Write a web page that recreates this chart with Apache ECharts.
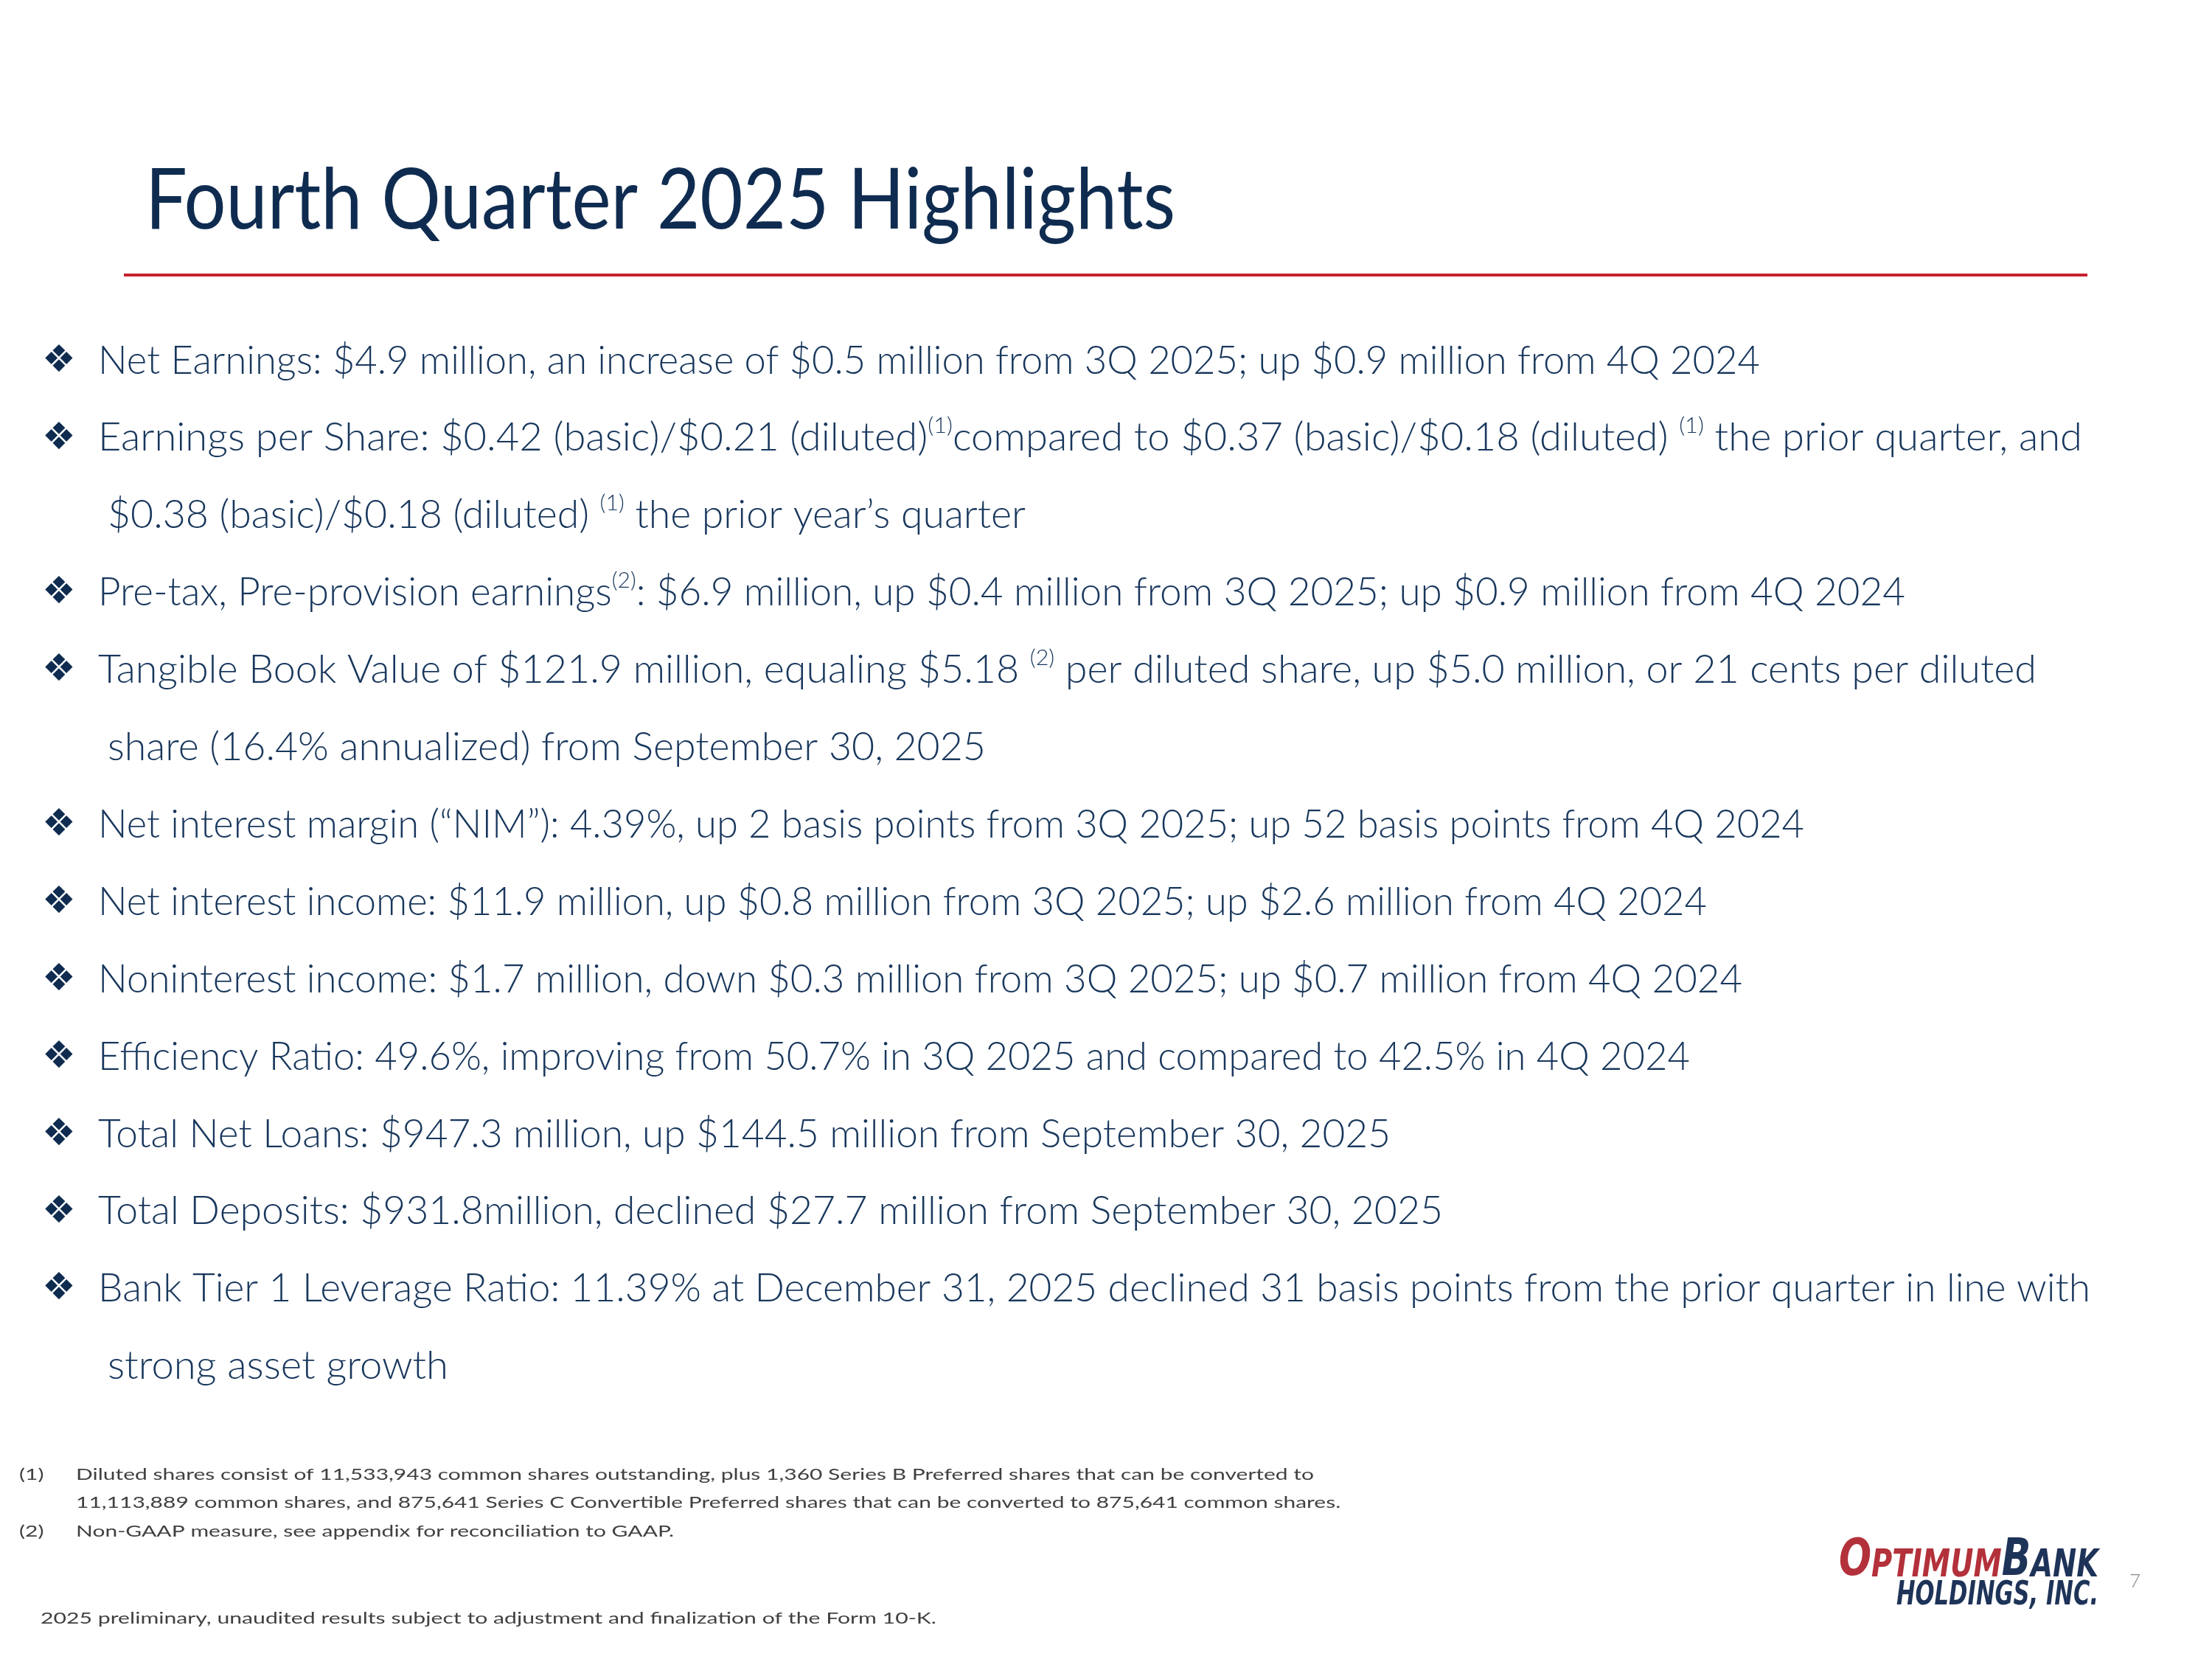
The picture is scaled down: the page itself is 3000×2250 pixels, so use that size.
<!DOCTYPE html>
<html>
<head>
<meta charset="utf-8">
<script src="https://cdn.jsdelivr.net/npm/echarts@6/dist/echarts.min.js"></script>
<style>
  html, body { margin: 0; padding: 0; background: #fff; }
  #slide { width: 3000px; height: 2250px; }
</style>
</head>
<body>
<div id="slide"></div>
<script>
// slide content
const titleText = 'Fourth Quarter 2025 Highlights';

// bullet lines; {sup|..} marks a superscript footnote reference
const highlightLines = [
  'Net Earnings: $4.9 million, an increase of $0.5 million from 3Q 2025; up $0.9 million from 4Q 2024',
  'Earnings per Share: $0.42 (basic)/$0.21 (diluted){sup|(1)}compared to $0.37 (basic)/$0.18 (diluted) {sup|(1)} the prior quarter, and',
  '$0.38 (basic)/$0.18 (diluted) {sup|(1)} the prior year’s quarter',
  'Pre-tax, Pre-provision earnings{sup|(2)}: $6.9 million, up $0.4 million from 3Q 2025; up $0.9 million from 4Q 2024',
  'Tangible Book Value of $121.9 million, equaling $5.18 {sup|(2)} per diluted share, up $5.0 million, or 21 cents per diluted',
  'share (16.4% annualized) from September 30, 2025',
  'Net interest margin (“NIM”): 4.39%, up 2 basis points from 3Q 2025; up 52 basis points from 4Q 2024',
  'Net interest income: $11.9 million, up $0.8 million from 3Q 2025; up $2.6 million from 4Q 2024',
  'Noninterest income: $1.7 million, down $0.3 million from 3Q 2025; up $0.7 million from 4Q 2024',
  'Efficiency Ratio: 49.6%, improving from 50.7% in 3Q 2025 and compared to 42.5% in 4Q 2024',
  'Total Net Loans: $947.3 million, up $144.5 million from September 30, 2025',
  'Total Deposits: $931.8million, declined $27.7 million from September 30, 2025',
  'Bank Tier 1 Leverage Ratio: 11.39% at December 31, 2025 declined 31 basis points from the prior quarter in line with',
  'strong asset growth'
];
// true where the line starts a new bullet, false for a wrapped continuation
const lineHasBullet = [true, true, false, true, true, false, true, true, true, true, true, true, true, false];

const footnoteMarks = ['(1)', '', '(2)'];
const footnoteLines = [
  'Diluted shares consist of 11,533,943 common shares outstanding, plus 1,360 Series B Preferred shares that can be converted to',
  '11,113,889 common shares, and 875,641 Series C Convertible Preferred shares that can be converted to 875,641 common shares.',
  'Non-GAAP measure, see appendix for reconciliation to GAAP.'
];
const disclaimerText = '2025 preliminary, unaudited results subject to adjustment and finalization of the Form 10-K.';
const pageNumber = '7';
const logoTop = ['O', 'PTIMUM', 'B', 'ANK'];
const logoBottom = 'HOLDINGS, INC.';

// layout: right edge of each bullet line in the slide (px), so the narrower
// original face can be matched line by line
const lineRightEdge = [2387, 2824, 1391, 2584, 2762, 1337, 2447, 2315, 2363, 2292, 1886, 1957, 2835, 608];

// colours
const NAVY = '#0f2c50';
const BODY = '#18375c';
const RED = '#c8202f';
const GREY = '#404040';

// canvas 'middle' baseline offset (em) per font, so text can be placed by baseline
const MID = { 'Lato': 0.387, 'DejaVu Sans': 0.346 };

const measureCtx = document.createElement('canvas').getContext('2d');
function measure(text, size, family, weight, style) {
  measureCtx.font = (style || 'normal') + ' ' + (weight || 'normal') + ' ' + size + 'px "' + family + '"';
  return measureCtx.measureText(text).width;
}

function textAt(x, baseline, text, size, opt) {
  opt = opt || {};
  const family = opt.family || 'Lato';
  return {
    type: 'text',
    x: x,
    y: baseline - MID[family] * size,
    scaleX: opt.scaleX || 1,
    style: {
      text: text,
      x: 0, y: 0,
      fontSize: size,
      fontFamily: family,
      fontWeight: opt.weight || 'normal',
      fontStyle: opt.fontStyle || 'normal',
      fill: opt.fill || BODY,
      align: opt.align || 'left',
      verticalAlign: 'middle',
      lineHeight: opt.lineHeight || Math.round(size * 1.2),
      rich: opt.rich
    }
  };
}

const elements = [];

// title + rule
const titleSize = 114;
const titleScale = 1397 / measure(titleText, titleSize, 'Lato', 'normal');
elements.push(textAt(197, 317, titleText, titleSize, { fill: NAVY, scaleX: titleScale }));
elements.push({
  type: 'rect',
  shape: { x: 168, y: 371, width: 2663, height: 4 },
  style: { fill: RED }
});

// bullet lines
const bodySize = 53;
const supSize = 30;
const supStyle = { fontSize: supSize, verticalAlign: 'top', lineHeight: 46, fill: BODY, fontFamily: 'Lato', fontWeight: 300 };
// width of a rich line: plain parts at body size, {sup|..} parts at sup size
function measureLine(line) {
  let w = 0;
  line.split(/(\{sup\|[^}]*\})/).forEach(function (part) {
    const m = part.match(/^\{sup\|([^}]*)\}$/);
    if (m) w += measure(m[1], supSize, 'Lato', 300);
    else if (part) w += measure(part, bodySize, 'Lato', 300);
  });
  return w;
}
highlightLines.forEach(function (line, i) {
  const baseline = 510 + 104.9 * i;
  const left = lineHasBullet[i] ? 133 : 146;
  if (lineHasBullet[i]) {
    elements.push(textAt(57, baseline - 2, '\u2756', 51, { family: 'DejaVu Sans', fill: NAVY }));
  }
  elements.push(textAt(left, baseline, line, bodySize, {
    weight: 300, scaleX: (lineRightEdge[i] - left) / measureLine(line), lineHeight: 64, rich: { sup: supStyle }
  }));
});

// footnotes
const noteSize = 22;
const noteScale = 1679 / measure(footnoteLines[0], noteSize, 'Lato');
footnoteLines.forEach(function (line, i) {
  const baseline = 2008 + 38.5 * i;
  if (footnoteMarks[i]) {
    elements.push(textAt(26, baseline, footnoteMarks[i], noteSize, { fill: GREY, scaleX: noteScale }));
  }
  elements.push(textAt(103, baseline, line, noteSize, { fill: GREY, scaleX: noteScale }));
});
elements.push(textAt(55, 2203, disclaimerText, noteSize, {
  fill: GREY, scaleX: 1215 / measure(disclaimerText, noteSize, 'Lato')
}));

// page number
elements.push(textAt(2888, 2155, pageNumber, 26, { weight: 300, fill: '#8a8a8a' }));

// logo, built from text
const LOGO_RED = '#b3313a';
const LOGO_NAVY = '#1e3358';
const bigSize = 70, smallSize = 52, holdSize = 44;
const logoFont = 'DejaVu Sans';
const topParts = [
  { t: logoTop[0], s: bigSize, c: LOGO_RED },
  { t: logoTop[1], s: smallSize, c: LOGO_RED },
  { t: logoTop[2], s: bigSize, c: LOGO_NAVY },
  { t: logoTop[3], s: smallSize, c: LOGO_NAVY }
];
let topWidth = 0;
topParts.forEach(function (p) { p.w = measure(p.t, p.s, logoFont, 'bold', 'italic'); topWidth += p.w; });
const topScale = 352 / topWidth;
let cx = 2494;
topParts.forEach(function (p) {
  elements.push(textAt(cx, 2142, p.t, p.s, {
    family: logoFont, weight: 'bold', fontStyle: 'italic', fill: p.c, scaleX: topScale
  }));
  cx += p.w * topScale;
});
const holdScale = 274 / measure(logoBottom, holdSize, logoFont, 'bold', 'italic');
elements.push(textAt(2572, 2180, logoBottom, holdSize, {
  family: logoFont, weight: 'bold', fontStyle: 'italic', fill: LOGO_NAVY, scaleX: holdScale
}));

const myChart = echarts.init(document.getElementById('slide'));
myChart.setOption({
  backgroundColor: '#ffffff',
  animation: false,
  graphic: { elements: elements }
});
</script>
</body>
</html>
